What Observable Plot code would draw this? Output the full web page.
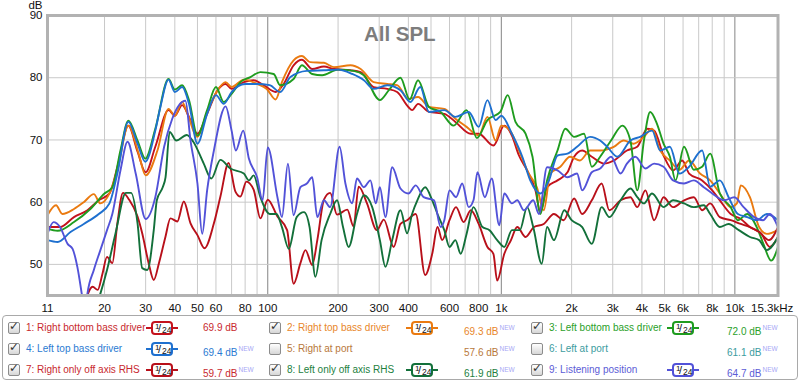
<!DOCTYPE html>
<html><head><meta charset="utf-8">
<script src="https://cdn.jsdelivr.net/npm/d3@7"></script>
<script src="https://cdn.jsdelivr.net/npm/@observablehq/plot@0.6"></script>
<style>
body{margin:0;background:#fff;font-family:"Liberation Sans",Arial,sans-serif;}
#wrap{position:relative;width:800px;height:381px;overflow:hidden;}
#chart{position:absolute;left:0;top:0;}
#legend{position:absolute;left:2px;top:315px;width:796px;height:65px;border:1px solid #a9a9a9;border-radius:4px;box-sizing:border-box;background:#fff;}
.cb{position:absolute;width:12px;height:12px;border:1px solid #8c8c8c;border-radius:2px;background:linear-gradient(#ffffff,#d6d6d6);box-sizing:border-box;}
.cb span{position:absolute;left:0px;top:-4px;font-size:12px;color:#333;font-family:"DejaVu Sans",sans-serif;font-weight:bold;}
.lab{position:absolute;font-size:10px;white-space:nowrap;line-height:12px;}
.val{position:absolute;font-size:10px;white-space:nowrap;line-height:12px;}
.val sup{font-size:6.5px;color:#a7a7f5;vertical-align:5px;margin-left:1px;}
.badge{position:absolute;width:32px;height:14px;}
.badge .ln{position:absolute;top:6px;height:2px;width:32px;left:0;}
.badge .bx{position:absolute;left:5px;top:0;width:22px;height:14px;border:2px solid;border-radius:4px;background:#fff;box-sizing:border-box;font-size:9px;color:#111;}
.badge .bx i{font-style:normal;position:absolute;}
</style>
</head><body>
<div id="wrap"><div id="chart"></div><div id="legend"></div></div>
<script>
// x tick values and labels
const xTickVals = [11.4, 20, 30, 40, 50, 60, 80, 100, 200, 300, 400, 600, 800, 1000, 2000, 3000, 4000, 5000, 6000, 8000, 10000];
const xTickLabels = ["11","20","30","40","50","60","80","100","200","300","400","600","800","1k","2k","3k","4k","5k","6k","8k","10k"];
const xLastTick = 15300, xLastLabel = "15.3kHz";
const xMinorGrid = [20,30,40,50,60,70,80,90,200,300,400,500,600,700,800,900,2000,3000,4000,5000,6000,7000,8000,9000];
const xMajorGrid = [100,1000,10000];
const yTicks = [50,60,70,80,90];

// series [Hz, dB]
const s1 = [[11.4,56.0],[12.9,56.0],[14.8,57.6],[16.9,58.7],[18.9,60.3],[21,61.4],[22.7,65.6],[25.3,72.3],[27.7,68.1],[30,64.8],[33,68.9],[37.6,74.8],[40,73.9],[43,75.6],[46,73.7],[50,71.0],[55,74.2],[61,78.0],[66,79.0],[70,78.2],[79,79.3],[87,79.6],[96,78.8],[108,77.7],[117,79.0],[129,82.0],[140,82.9],[155,81.4],[174,81.8],[192,81.4],[226,81.2],[250,80.9],[284,78.5],[325,78.2],[358,77.7],[400,75.3],[415,74.8],[440,75.8],[490,74.5],[570,74.2],[636,72.9],[740,71.0],[800,71.0],[925,69.1],[1030,72.3],[1110,70.7],[1190,67.5],[1290,65.1],[1400,61.9],[1470,58.4],[1570,62.4],[1740,63.5],[1920,64.8],[2050,67.3],[2220,68.3],[2440,67.3],[2750,66.2],[3030,66.7],[3450,68.3],[3820,68.9],[4220,71.8],[4510,71.5],[4950,67.5],[5440,65.1],[5950,66.7],[6370,64.6],[7240,63.5],[8000,61.9],[8620,60.3],[9600,58.1],[10600,57.3],[11600,56.0],[13000,54.9],[14100,52.8],[15300,54.4]];
const s2 = [[11.4,57.9],[12.4,59.5],[13.2,58.1],[14.8,58.9],[16.3,60.0],[18,61.3],[19.2,59.8],[21,61.4],[22.7,65.1],[25.3,72.3],[28,67.8],[30,64.3],[33.7,68.3],[37.6,75.0],[40,73.9],[43,76.1],[45,74.5],[50,70.5],[55,74.5],[61,78.0],[66,79.3],[70,78.5],[79,79.7],[90,79.0],[99,78.2],[108,76.5],[115,79.3],[129,82.8],[140,83.5],[152,82.5],[174,82.4],[192,81.7],[226,82.0],[250,81.4],[284,79.3],[325,79.0],[358,78.8],[400,76.6],[440,76.9],[490,75.3],[570,75.0],[636,73.4],[710,72.1],[800,70.7],[872,73.7],[945,69.9],[1000,72.3],[1090,71.5],[1190,68.3],[1310,64.6],[1420,62.4],[1520,58.7],[1620,64.6],[1790,65.7],[1970,67.3],[2170,66.7],[2400,68.3],[2650,68.3],[3030,68.9],[3340,69.9],[3680,69.4],[4080,70.5],[4420,71.8],[4790,68.3],[5270,66.7],[5790,65.2],[6370,66.7],[7090,64.6],[7840,63.5],[8620,61.4],[9600,59.2],[10200,59.8],[10600,62.7],[11600,60.8],[12700,56.0],[13700,54.9],[15300,55.5]];
const s3 = [[11.4,55.7],[12.6,55.4],[14.8,56.8],[17.4,58.9],[20,61.4],[21.6,62.4],[23.4,68.3],[25.3,73.1],[27.7,69.9],[29.9,67.0],[33,71.8],[37.6,79.8],[40,78.1],[43,78.8],[46,76.4],[50,70.7],[55,74.8],[60,78.5],[64.8,76.1],[70,77.4],[76.4,79.3],[84.3,80.1],[93,80.9],[106,80.6],[113,78.8],[129,79.8],[140,82.0],[155,80.6],[171,80.4],[200,81.3],[233,81.1],[258,80.4],[302,76.4],[330,78.0],[370,80.0],[405,76.5],[440,79.6],[490,75.3],[550,74.5],[625,72.3],[710,74.8],[786,70.3],[872,73.2],[990,74.5],[1065,77.2],[1150,72.9],[1270,71.0],[1360,67.3],[1470,58.1],[1570,63.5],[1740,68.3],[1880,71.8],[2050,70.5],[2260,71.0],[2440,65.7],[2650,67.3],[2950,69.9],[3300,72.3],[3570,69.9],[3820,61.9],[4080,69.9],[4340,74.5],[4640,72.6],[4950,69.4],[5270,67.3],[5570,63.5],[6060,68.9],[6670,65.2],[7240,65.7],[7840,67.8],[8620,61.4],[9600,59.2],[10300,57.1],[11300,58.1],[12400,56.0],[13250,53.3],[14300,50.6],[15300,52.8]];
const s4 = [[11.4,53.9],[12.6,53.6],[14.3,55.2],[16.3,56.5],[18.9,58.1],[21,59.8],[22.7,64.6],[25.3,72.9],[27.7,69.4],[29.9,66.5],[33,71.5],[34.7,75.3],[37.6,79.7],[40,77.7],[43,78.5],[46,75.8],[50,69.4],[55,74.2],[60,77.2],[64.8,75.8],[70,77.7],[80,79.0],[90,79.0],[102,78.8],[113,77.7],[125,80.1],[147,81.1],[174,81.2],[200,81.3],[230,80.6],[258,79.6],[284,78.2],[325,78.8],[370,78.0],[408,76.1],[450,78.5],[490,74.5],[570,74.8],[636,73.7],[725,74.5],[800,72.1],[872,76.4],[945,73.2],[1000,73.9],[1110,71.0],[1230,67.3],[1330,63.5],[1470,61.4],[1600,63.5],[1740,67.5],[1920,67.8],[2110,68.9],[2400,70.5],[2650,69.9],[2840,68.9],[3140,67.3],[3570,69.9],[3930,70.5],[4420,71.5],[4790,68.3],[5270,68.9],[5790,64.6],[6370,65.7],[7240,68.3],[7840,62.5],[8620,63.5],[9400,60.8],[10300,58.1],[11300,57.6],[12400,57.1],[13700,58.1],[15300,57.1]];
const s7 = [[16.0,42],[17.8,46.4],[18.7,45.9],[19.6,48.5],[20.5,51.2],[21.6,50.2],[22.7,56.6],[24,61.5],[25.5,60.4],[27.7,57.7],[29,55.0],[30.9,50.2],[32.5,47.5],[34.2,50.2],[36.5,54.5],[38.3,57.4],[41,56.9],[43.7,60.1],[46.7,56.6],[50,54.7],[53.6,52.6],[58.8,56.6],[62.7,60.9],[68,66.3],[72.7,61.7],[76.4,60.9],[81,63.3],[87,62.0],[93,57.4],[100,60.4],[110,57.7],[121,55.5],[129,46.9],[138,50.2],[145,52.3],[155,49.9],[163,53.9],[174,60.4],[185,61.5],[198,58.0],[219,58.8],[233,56.1],[245,62.5],[266,59.8],[293,55.5],[314,57.2],[346,52.8],[370,56.5],[395,57.1],[430,58.1],[472,48.3],[506,51.7],[533,56.0],[558,53.9],[600,57.1],[640,59.2],[690,56.8],[740,58.7],[800,56.5],[872,52.8],[925,51.7],[960,47.4],[1030,51.7],[1100,53.9],[1170,56.0],[1270,54.4],[1380,56.0],[1520,56.5],[1680,58.1],[1850,57.1],[2050,60.6],[2220,58.1],[2440,60.3],[2690,63.0],[2900,58.7],[3240,60.3],[3570,60.8],[3820,59.2],[4140,61.9],[4510,57.1],[4950,60.8],[5440,59.2],[6060,60.3],[6670,60.8],[7240,58.7],[7840,59.8],[8620,57.6],[9600,57.1],[10600,56.5],[11600,56.0],[12700,55.2],[14000,53.9],[15300,56.0]];
const s8 = [[17,40],[19.2,45.3],[20.5,49.1],[22.3,55.0],[24.7,61.5],[26,61.5],[27.7,56.6],[29,49.4],[30.5,49.1],[32.5,55.5],[33.5,60.3],[35.5,62.4],[36.5,64.0],[38,71.3],[40.6,69.9],[45,70.8],[48,69.7],[53.2,66.2],[57.3,63.8],[62.7,66.8],[69.2,65.4],[79,64.6],[83,63.5],[87,64.3],[93,60.8],[102,58.1],[109,58.1],[115,56.0],[123,52.5],[133,57.6],[143,58.4],[151,56.0],[160,48.0],[170,53.9],[185,58.1],[198,60.3],[210,56.0],[222,52.8],[241,58.1],[258,61.1],[280,59.2],[302,53.9],[319,49.6],[341,53.9],[370,58.7],[395,55.0],[415,58.1],[437,60.3],[472,62.4],[506,60.3],[533,58.1],[570,55.5],[600,52.8],[636,53.9],[670,51.7],[710,54.9],[760,59.2],[830,56.0],[890,55.5],[960,53.9],[1030,52.8],[1110,55.5],[1200,55.5],[1290,59.2],[1370,56.0],[1490,50.1],[1570,56.0],[1680,53.9],[1860,58.7],[2000,57.1],[2220,56.0],[2440,53.3],[2690,59.2],[2900,57.6],[3240,60.3],[3570,62.2],[3820,60.8],[4080,59.8],[4420,61.4],[4950,59.2],[5440,60.3],[6060,59.8],[6670,59.2],[7360,59.5],[7840,58.1],[8620,56.0],[9400,56.5],[10400,55.5],[11600,54.4],[12700,53.9],[13700,52.3],[15300,54.4]];
const s9 = [[11.4,54.9],[12.1,56.8],[12.9,56.0],[13.9,53.3],[14.6,52.5],[15.3,49.6],[16.1,44.5],[16.5,42],[16.9,45.3],[18,49.1],[19.2,52.3],[20.5,55.5],[21.6,58.1],[23.4,65.1],[25.1,69.7],[27.2,64.6],[30,57.3],[33,60.8],[36,68.9],[39,73.4],[44.4,76.3],[46.7,69.9],[50,63.0],[52.4,54.9],[55,61.9],[58.8,68.3],[66,75.4],[70,71.5],[73,68.3],[78.5,71.5],[83,67.0],[90,64.0],[95,60.3],[100,68.8],[110,60.8],[115,57.6],[122,66.2],[129,57.9],[138,62.4],[147,63.0],[155,64.0],[163,57.6],[174,60.3],[185,59.2],[203,68.9],[215,63.0],[230,59.8],[241,63.8],[258,62.4],[275,63.5],[290,59.8],[302,62.4],[319,57.6],[341,65.6],[370,62.2],[400,61.4],[430,62.7],[465,60.8],[515,60.3],[550,56.0],[570,57.1],[600,61.9],[640,60.8],[680,63.0],[725,59.2],[760,60.3],[790,64.8],[850,60.8],[910,63.8],[980,56.3],[1030,61.4],[1110,59.8],[1170,60.3],[1250,58.7],[1370,60.3],[1450,58.1],[1570,65.6],[1740,65.1],[1920,64.0],[2110,64.6],[2220,61.9],[2440,64.8],[2650,65.4],[2950,67.3],[3240,64.6],[3450,66.2],[3750,67.3],[4140,65.4],[4510,66.2],[4950,65.7],[5440,63.5],[6060,63.0],[6670,63.5],[7360,62.4],[8000,61.4],[9000,60.3],[9950,60.8],[10900,59.2],[12100,57.6],[13200,57.1],[14100,58.1],[15300,56.0]];

// legend
const legendNames = ["1: Right bottom bass driver","2: Right top bass driver","3: Left bottom bass driver","4: Left top bass driver","5: Right at port","6: Left at port","7: Right only off axis RHS","8: Left only off axis RHS","9: Listening position"];
const legendValues = ["69.9 dB","69.3 dB","72.0 dB","69.4 dB","57.6 dB","61.1 dB","59.7 dB","61.9 dB","64.7 dB"];
const legendNew = [false,true,true,true,true,true,true,true,true];
const legendChecked = [true,true,true,true,false,false,true,true,true];
const legendTextColors = ["#c8282e","#e8862a","#2aa02a","#2a7ad2","#b8783a","#3c9ca0","#c8282e","#22803e","#5c5cd6"];
const lineColors = ["#c4121c","#ea7a10","#1f9c1f","#1e70cf",null,null,"#b8101a","#13703a","#5252d8"];
const seriesData = [s1,s2,s3,s4,null,null,s7,s8,s9];

const font = "Liberation Sans, Arial, sans-serif";
const lineMarks = [];
seriesData.forEach((s,i)=>{
  if(!s || !legendChecked[i]) return;
  lineMarks.push(Plot.line(s.map(([f,db])=>({f,db})), {x:"f", y:"db", stroke:lineColors[i], strokeWidth:1.9, curve:"monotone-x", clip:true}));
});

const chart = Plot.plot({
  width:800, height:313,
  marginLeft:47, marginRight:22.5, marginTop:15, marginBottom:18,
  style:{fontFamily:font, fontSize:"11.5px", background:"transparent"},
  x:{type:"log", domain:[11.4,15300], axis:null},
  y:{domain:[45,90], axis:null},
  marks:[
    Plot.ruleX(xMinorGrid,{stroke:"#c9c9c9", strokeWidth:1}),
    Plot.ruleX(xMajorGrid,{stroke:"#858585", strokeWidth:1}),
    Plot.ruleY([50,60,70,80],{stroke:"#c9c9c9", strokeWidth:1}),
    ...lineMarks,
    Plot.frame({stroke:"#b2b2b2", strokeWidth:3}),
    Plot.text(["All SPL"],{frameAnchor:"top", dx:-13, dy:11, fontSize:20.5, fontWeight:"bold", fill:"#7d7d7d"}),
    Plot.text(xTickVals,{x:d=>d, y:45, dy:12.5, text:(d,i)=>xTickLabels[i], fill:"#111"}),
    Plot.text([xLastTick],{x:d=>d, y:45, dy:12.5, dx:-27, text:()=>xLastLabel, textAnchor:"start", fill:"#111"}),
    Plot.text(yTicks,{x:11.4, y:d=>d, dx:-5, text:d=>String(d), textAnchor:"end", fill:"#111"}),
    Plot.text(["dB"],{x:11.4, y:90, dx:-5, dy:-10.5, textAnchor:"end", fill:"#111"})
  ]
});
document.getElementById("chart").appendChild(chart);

// legend layout
const lg = document.getElementById("legend");
const colCb = [5, 266, 528], colLab=[23, 284, 546], colBadge=[143, 403, 664], colVal=[200, 461, 724];
const rowY = [6, 27, 48];
legendNames.forEach((name,i)=>{
  const r = Math.floor(i/3), c = i%3;
  const y = rowY[r];
  const cb = document.createElement("div");
  cb.className="cb"; cb.style.left=colCb[c]+"px"; cb.style.top=y+"px";
  if(legendChecked[i]) cb.innerHTML="<span>✓</span>";
  lg.appendChild(cb);
  const lab = document.createElement("div");
  lab.className="lab"; lab.style.left=colLab[c]+"px"; lab.style.top=y+"px"; lab.style.color=legendTextColors[i];
  lab.textContent=name; lg.appendChild(lab);
  if(legendChecked[i]){
    const b = document.createElement("div");
    b.className="badge"; b.style.left=colBadge[c]+"px"; b.style.top=(y-1)+"px";
    const col = lineColors[i];
    b.innerHTML = `<div class="ln" style="background:${col}"></div><div class="bx" style="border-color:${col}"><i style="left:2px;top:-1px;font-size:8px">1</i><i style="left:5px;top:-1px;font-size:11px">/</i><i style="left:9px;top:2px;font-size:8.5px">24</i></div>`;
    lg.appendChild(b);
  }
  const v = document.createElement("div");
  v.className="val"; v.style.left=colVal[c]+"px"; v.style.top=y+"px"; v.style.color=legendTextColors[i];
  v.innerHTML = legendValues[i] + (legendNew[i]?"<sup>NEW</sup>":"");
  lg.appendChild(v);
});
</script>
</body></html>
